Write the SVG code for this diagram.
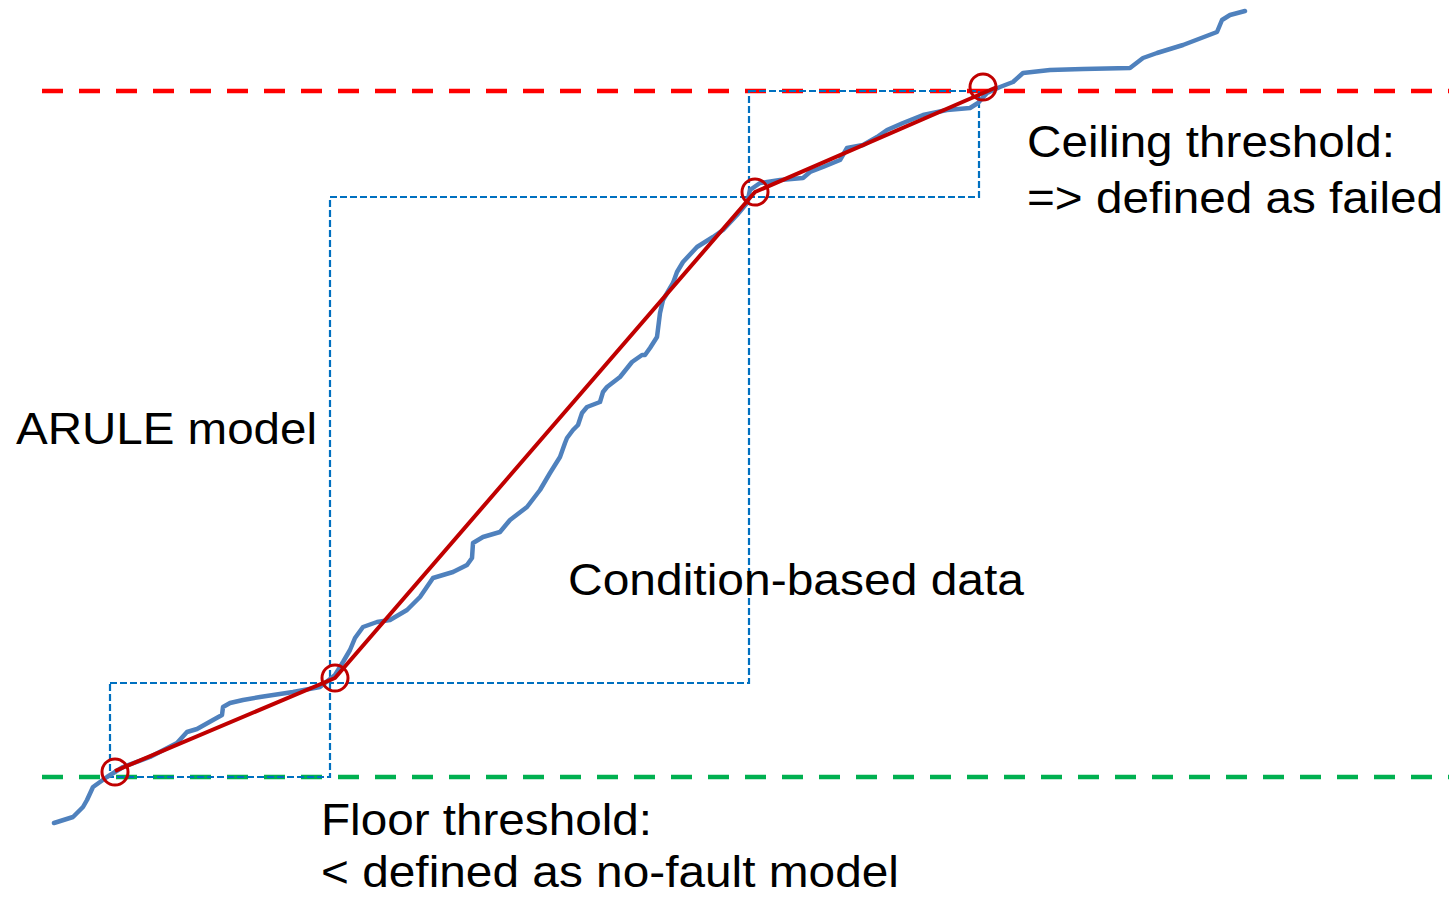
<svg xmlns="http://www.w3.org/2000/svg" width="1449" height="897" viewBox="0 0 1449 897">
  <style>
    .label { font-family: "Liberation Sans", Arial, sans-serif; font-size: 44px; fill: #000000; }
    .threshold { fill: none; stroke-width: 4.5; stroke-dasharray: 21 16; }
    .window { fill: none; stroke: #0070C0; stroke-width: 2.2; stroke-dasharray: 7 3; }
    .data { fill: none; stroke: #4F81BD; stroke-width: 4.5; stroke-linejoin: round; stroke-linecap: round; }
    .model { fill: none; stroke: #C00000; stroke-width: 4; stroke-linejoin: round; }
    .knot { fill: none; stroke: #C00000; stroke-width: 3; }
  </style>

  <!-- threshold lines -->
  <g id="ceiling-line">
    <line class="threshold" stroke="#FF0000" x1="42" y1="91" x2="1449" y2="91"/>
  </g>
  <g id="floor-line">
    <line class="threshold" stroke="#00B050" x1="42" y1="777" x2="1449" y2="777"/>
  </g>

  <!-- segment windows -->
  <g id="window-1"><rect class="window" x="110" y="683" width="220" height="94"/></g>
  <g id="window-2"><rect class="window" x="330" y="197" width="419" height="486"/></g>
  <g id="window-3"><rect class="window" x="749" y="91" width="230" height="106"/></g>

  <!-- measured condition data -->
  <g id="condition-data">
    <polyline class="data" points="54,823 73,817 83,807 87,800 93,787 107,777 123,767 150,757 177,743 187,732 197,729 213,720 222,715 223,707 230,703 243,700 260,697 293,692 320,687 335,675 343,662 350,650 355,638 363,627 377,622 390,620 407,610 420,597 433,578 453,572 467,565 472,558 473,543 483,537 500,532 510,520 527,507 540,490 550,473 560,457 565,443 567,438 573,430 578,425 582,413 587,407 600,402 603,392 607,387 620,377 632,362 642,355 645,355 650,348 657,337 660,313 663,300 673,283 677,272 683,262 697,247 713,237 723,230 737,215 747,203 750,190 760,183 780,180 803,178 810,172 823,167 840,160 847,148 863,145 877,137 887,130 903,123 923,115 947,110 970,108 978,103 987,93 1000,87 1013,82 1023,73 1050,70 1083,69 1130,68 1143,58 1157,53 1183,45 1217,32 1222,20 1230,15 1245,11"/>
  </g>

  <!-- piecewise linear ARULE model -->
  <g id="arule-model">
    <polyline class="model" points="115,771 335,678 755,192 997,87"/>
    <circle class="knot" cx="115" cy="772" r="13"/>
    <circle class="knot" cx="335" cy="678" r="13"/>
    <circle class="knot" cx="755" cy="192" r="13"/>
    <circle class="knot" cx="983" cy="87" r="13"/>
  </g>

  <!-- labels -->
  <g id="label-arule">
    <text class="label" x="16" y="444" textLength="301" lengthAdjust="spacingAndGlyphs">ARULE model</text>
  </g>
  <g id="label-condition">
    <text class="label" x="568" y="595" textLength="456" lengthAdjust="spacingAndGlyphs">Condition-based data</text>
  </g>
  <g id="label-ceiling">
    <text class="label" x="1027" y="157" textLength="368" lengthAdjust="spacingAndGlyphs">Ceiling threshold:</text>
    <text class="label" x="1027" y="213" textLength="416" lengthAdjust="spacingAndGlyphs">=&gt; defined as failed</text>
  </g>
  <g id="label-floor">
    <text class="label" x="321" y="835" textLength="331" lengthAdjust="spacingAndGlyphs">Floor threshold:</text>
    <text class="label" x="321" y="887" textLength="578" lengthAdjust="spacingAndGlyphs">&lt; defined as no-fault model</text>
  </g>
</svg>
